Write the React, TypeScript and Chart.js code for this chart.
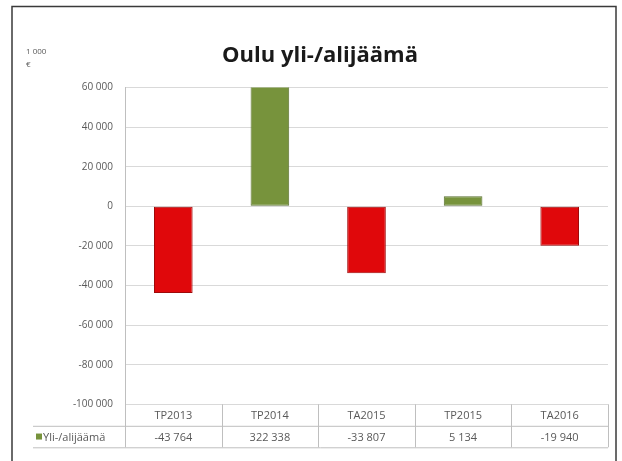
import React, { useEffect, useRef } from "react";
import { Chart, registerables } from "chart.js";

Chart.register(...registerables);

const titleText = "Oulu yli-/alijäämä";
const unitLines = ["1 000", "€"];
const seriesName = "Yli-/alijäämä";
const categories = ["TP2013", "TP2014", "TA2015", "TP2015", "TA2016"];
const values = [-43764, 322338, -33807, 5134, -19940];
const yMin = -100000;
const yMax = 60000;
const yStep = 20000;

const RED = "#e0080b";
const RED_BORDER = "#9e0a0a";
const GREEN = "#77933c";
const GREEN_BORDER = "#5a7030";
const TEXT = "#595959";
const GRID = "#d9d9d9";
const AXIS = "#bfbfbf";
const FONT = "'Open Sans', 'Liberation Sans', sans-serif";

function fmt(v: number): string {
  const s = Math.abs(Math.round(v)).toString().replace(/\B(?=(\d{3})+(?!\d))/g, " ");
  return (v < 0 ? "-" : "") + s;
}

const decorPlugin = {
  id: "decor",
  afterDraw(chart: any) {
    const ctx = chart.ctx as CanvasRenderingContext2D;
    const area = chart.chartArea;
    const xs = chart.scales.x;
    const n = categories.length;
    const colW = (area.right - area.left) / n;
    const rowH = 21.5;
    const top = area.bottom;
    ctx.save();

    // Title
    ctx.fillStyle = "#1a1a1a";
    ctx.font = `bold 22px ${FONT}`;
    ctx.textAlign = "center";
    ctx.textBaseline = "alphabetic";
    ctx.fillText(titleText, 320, 62);

    // Unit label
    ctx.fillStyle = TEXT;
    ctx.font = `8px ${FONT}`;
    ctx.textAlign = "left";
    ctx.fillText(unitLines[0], 26, 54);
    ctx.fillText(unitLines[1], 26, 67);

    // Data table lines
    ctx.strokeStyle = AXIS;
    ctx.lineWidth = 1;
    ctx.beginPath();
    ctx.moveTo(area.left, top + rowH + 0.5);
    ctx.lineTo(33, top + rowH + 0.5);
    ctx.moveTo(33, top + 2 * rowH + 0.5);
    ctx.lineTo(area.right, top + 2 * rowH + 0.5);
    ctx.moveTo(area.left, top + rowH + 0.5);
    ctx.lineTo(area.right, top + rowH + 0.5);
    for (let i = 0; i <= n; i++) {
      const x = Math.round(area.left + i * colW) + 0.5;
      ctx.moveTo(x, top);
      ctx.lineTo(x, top + 2 * rowH);
    }
    ctx.stroke();

    // Table text
    ctx.fillStyle = TEXT;
    ctx.font = `11px ${FONT}`;
    ctx.textAlign = "center";
    ctx.textBaseline = "middle";
    categories.forEach((c, i) => {
      const x = xs.getPixelForValue(i);
      ctx.fillText(c, x, top + rowH / 2 + 1);
      ctx.fillText(fmt(values[i]), x, top + rowH * 1.5 + 1);
    });

    // Legend key + series name
    ctx.fillStyle = GREEN;
    ctx.fillRect(36, top + rowH * 1.5 - 3, 6, 6);
    ctx.fillStyle = TEXT;
    ctx.textAlign = "left";
    ctx.fillText(seriesName, 43, top + rowH * 1.5 + 1);

    // Outer frame
    ctx.strokeStyle = "#3a3a3a";
    ctx.lineWidth = 1.5;
    ctx.strokeRect(12, 6.5, 604, 470);
    ctx.restore();
  },
};

export default function App() {
  const ref = useRef<HTMLCanvasElement | null>(null);
  useEffect(() => {
    if (!ref.current) return;
    const chart = new Chart(ref.current, {
      type: "bar",
      data: {
        labels: categories,
        datasets: [
          {
            label: seriesName,
            data: values,
            backgroundColor: values.map((v) => (v < 0 ? RED : GREEN)),
            borderColor: values.map((v) => (v < 0 ? RED_BORDER : GREEN_BORDER)),
            borderWidth: 1,
            borderSkipped: false,
            barPercentage: 0.4,
            categoryPercentage: 1,
          },
        ],
      },
      options: {
        responsive: false,
        animation: false,
        layout: { padding: { left: 0, right: 14, top: 87.5, bottom: 56.7 } },
        plugins: { legend: { display: false }, title: { display: false }, tooltip: { enabled: false } },
        scales: {
          x: { display: false },
          y: {
            min: yMin,
            max: yMax,
            afterFit: (s: any) => {
              s.width = 125;
            },
            ticks: {
              stepSize: yStep,
              padding: 12,
              color: TEXT,
              font: { family: FONT, size: 10 },
              callback: (v: any) => fmt(Number(v)),
            },
            grid: { color: GRID, drawTicks: false },
            border: { display: true, color: AXIS },
          },
        },
      },
      plugins: [decorPlugin],
    });
    return () => chart.destroy();
  }, []);
  return (
    <div style={{ position: "fixed", left: 0, top: 0, width: 622, height: 461, background: "#fff" }}>
      <canvas ref={ref} width={622} height={461} style={{ display: "block" }} />
    </div>
  );
}
